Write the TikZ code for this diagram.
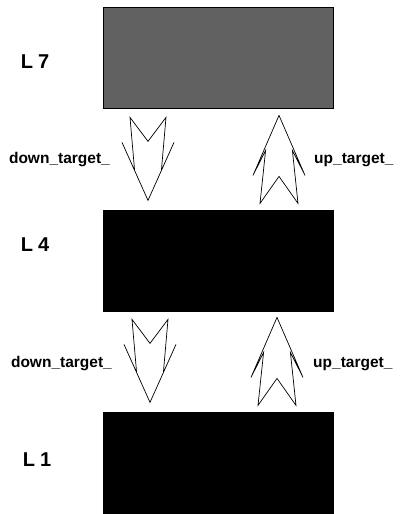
\documentclass[tikz,border=0pt]{standalone}
\usepackage{fontspec}
\setmainfont{Liberation Sans}
\usepackage{tikz}
\usetikzlibrary{calc}

\tikzstyle{level} = [rectangle, minimum width=230pt, minimum height=101pt, inner sep=0pt, draw=black, fill=black, anchor=north west]
\tikzstyle{levelname} = [font=\fontsize{20}{20}\bfseries\selectfont]
\tikzstyle{target} = [font=\fontsize{15.5}{15.5}\bfseries\selectfont, inner sep=0pt]
\tikzstyle{outline} = [draw=black, fill=white, line width=0.7pt, line join=miter]
\tikzset{
  downarrow/.pic={\draw [outline] (-18,0) -- (0,24) -- (18,0) -- (13.4,53) -- (26,25) -- (0,83) -- (-26,25) -- (-13.4,53) -- cycle;},
  uparrow/.pic={\draw [outline] (-19,88) -- (0,61) -- (19,88) -- (13.4,35) -- (26,60) -- (0,0) -- (-26,60) -- (-13.4,35) -- cycle;}
}

\begin{document}
\begin{tikzpicture}[x=1pt, y=-1pt]
\useasboundingbox (0,0) rectangle (399,514);

\node (l7) [level, fill=black!62] at (103,7) {};
\node (l4) [level] at (103,210) {};
\node (l1) [level, minimum height=104pt] at (103,412) {};

\node (n7) [levelname] at (35,62) {L\hspace{0.25em}7};
\node (n4) [levelname] at (35,245) {L\hspace{0.25em}4};
\node (n1) [levelname] at (37,460) {L\hspace{0.25em}1};

% arrows between levels
\pic at ($(l7.south west)+(45,9)$) {downarrow};
\pic at ($(l7.south west)+(176,7)$) {uparrow};
\pic at ($(l4.south west)+(47,8)$) {downarrow};
\pic at ($(l4.south west)+(174,6)$) {uparrow};

\node (d74) [target, anchor=east] at (110,160) {down\_target\_};
\node (u47) [target, anchor=west] at (314,160) {up\_target\_};
\node (d41) [target, anchor=east] at (112,364) {down\_target\_};
\node (u14) [target, anchor=west] at (313,364) {up\_target\_};

\end{tikzpicture}
\end{document}
